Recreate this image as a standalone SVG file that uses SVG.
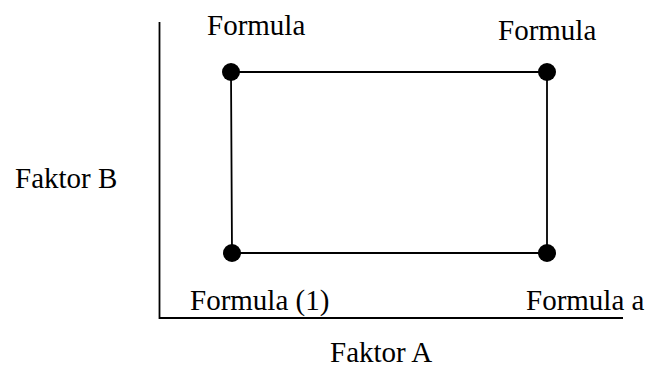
<svg xmlns="http://www.w3.org/2000/svg" width="650" height="369" viewBox="0 0 650 369">
<style>
text{font-family:"Liberation Serif","Times New Roman",serif;font-size:29px;fill:#000}
.ln{stroke:#000;stroke-width:1.8;fill:none}
.dot{fill:#000}
</style>
<rect width="650" height="369" fill="#fff"/>
<g id="axes">
<path class="ln" d="M159.5 22 V318 H623"/>
<text x="330" y="362">Faktor A</text>
<text x="15" y="188">Faktor B</text>
</g>
<g id="connectors">
<path class="ln" d="M231 72 H547 V253 H232 Z"/>
</g>
<g id="n1"><circle class="dot" cx="231" cy="72" r="9"/><text x="207" y="35">Formula</text></g>
<g id="n2"><circle class="dot" cx="547" cy="72" r="9"/><text x="498" y="40">Formula</text></g>
<g id="n3"><circle class="dot" cx="232" cy="253" r="9"/><text x="190" y="310">Formula (1)</text></g>
<g id="n4"><circle class="dot" cx="547" cy="253" r="9"/><text x="526" y="310">Formula a</text></g>
</svg>
